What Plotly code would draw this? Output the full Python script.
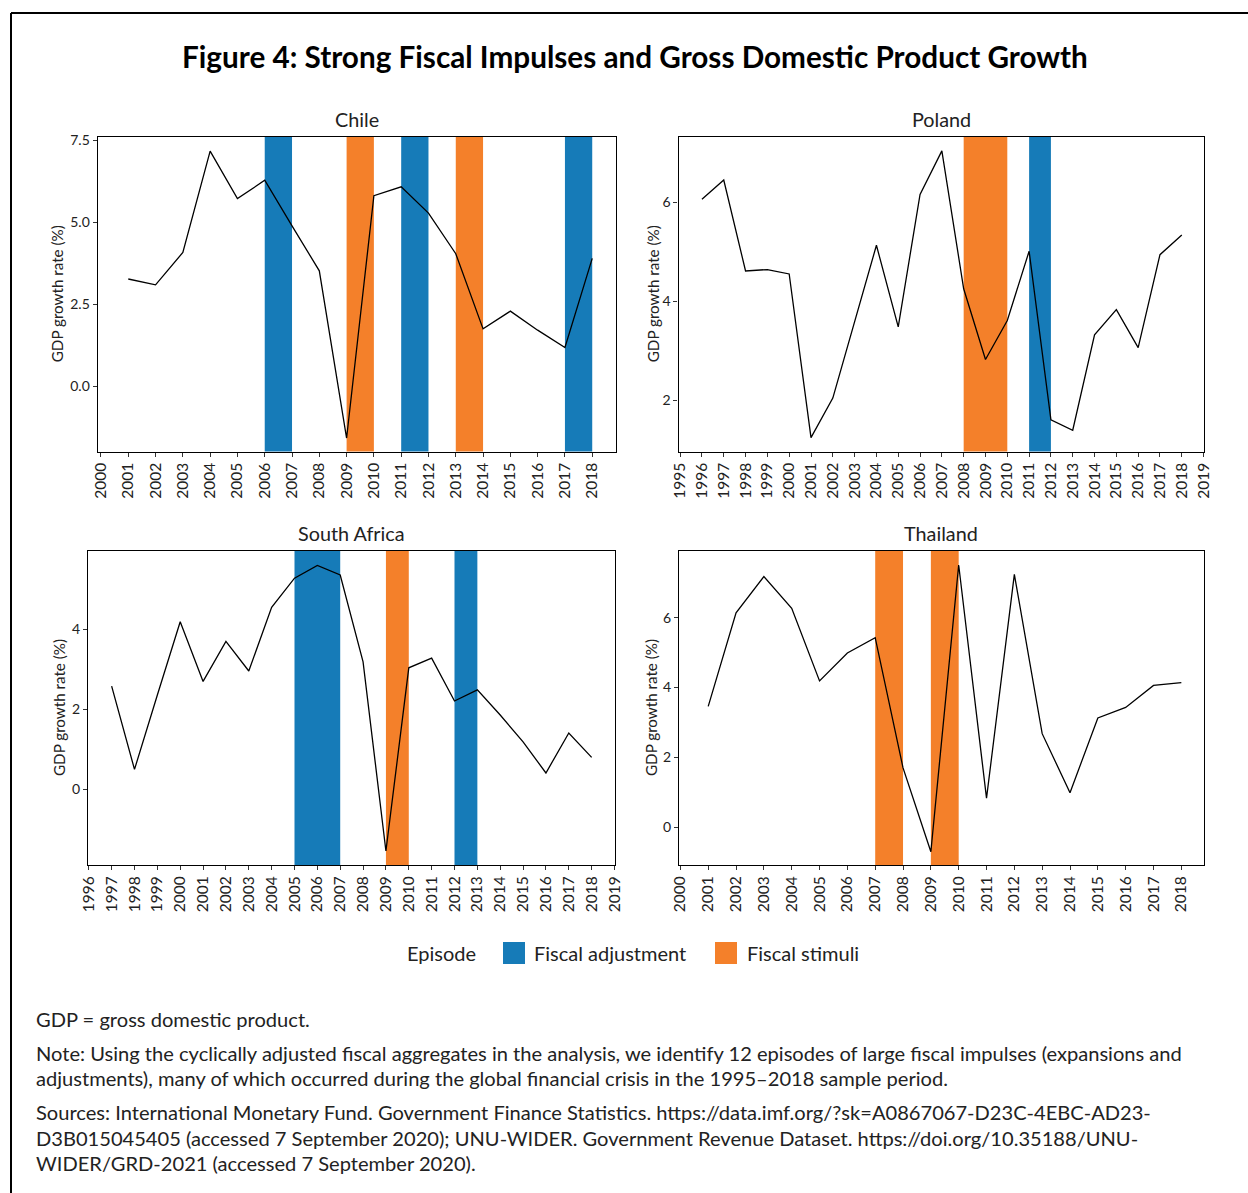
import plotly.graph_objects as go

# ---------------- data ----------------
chile_years = list(range(2001, 2019))
chile_gdp = [3.27, 3.09, 4.08, 7.17, 5.72, 6.28, 4.89, 3.52, -1.58, 5.81,
             6.08, 5.28, 4.04, 1.75, 2.29, 1.71, 1.18, 3.90]
chile_adj = [(2006, 2007), (2011, 2012), (2017, 2018)]
chile_stim = [(2009, 2010), (2013, 2014)]

poland_years = list(range(1996, 2019))
poland_gdp = [6.06, 6.45, 4.61, 4.64, 4.55, 1.24, 2.04, 3.58, 5.13, 3.48,
              6.16, 7.04, 4.25, 2.82, 3.61, 5.01, 1.60, 1.39, 3.32, 3.83,
              3.06, 4.94, 5.34]
poland_adj = [(2011, 2012)]
poland_stim = [(2008, 2010)]

sa_years = list(range(1997, 2019))
sa_gdp = [2.58, 0.50, 2.36, 4.19, 2.70, 3.70, 2.96, 4.55, 5.28, 5.60,
          5.36, 3.19, -1.54, 3.04, 3.28, 2.21, 2.49, 1.86, 1.19, 0.41,
          1.41, 0.80]
sa_adj = [(2005, 2007), (2012, 2013)]
sa_stim = [(2009, 2010)]

thai_years = list(range(2001, 2019))
thai_gdp = [3.46, 6.14, 7.18, 6.27, 4.19, 4.99, 5.43, 1.70, -0.70, 7.51,
            0.83, 7.24, 2.68, 0.99, 3.13, 3.43, 4.06, 4.14]
thai_adj = []
thai_stim = [(2007, 2008), (2009, 2010)]

countries = ["Chile", "Poland", "South Africa", "Thailand"]
x_ticks = [list(range(2000, 2019)), list(range(1995, 2020)),
           list(range(1996, 2020)), list(range(2000, 2019))]
y_ticks = [[0.0, 2.5, 5.0, 7.5], [2, 4, 6], [0, 2, 4], [0, 2, 4, 6]]
y_tickfmt = [".1f", "d", "d", "d"]

legend_title = "Episode"
legend_labels = ["Fiscal adjustment", "Fiscal stimuli"]
BLUE = "#167bb8"
ORANGE = "#f4802a"
TXT = "#222222"
FONT = "Lato"

W, H = 1248, 1193

# panel geometry (pixels)
panels = [
    dict(x=(97.7, 615.7), y=(137, 451.5), xr=(1999.88, 2018.86), yr=(-1.99, 7.6), ytx=57, tty=119),
    dict(x=(678.6, 1203.6), y=(137, 451.5), xr=(1994.93, 2019.0), yr=(0.96, 7.32), ytx=653, tty=119),
    dict(x=(88.1, 614.5), y=(551, 865), xr=(1995.97, 2019.0), yr=(-1.89, 5.96), ytx=59, tty=533),
    dict(x=(679.0, 1203.6), y=(551, 865), xr=(1999.95, 2018.8), yr=(-1.08, 7.91), ytx=651, tty=533),
]

series = [(chile_years, chile_gdp, chile_adj, chile_stim),
          (poland_years, poland_gdp, poland_adj, poland_stim),
          (sa_years, sa_gdp, sa_adj, sa_stim),
          (thai_years, thai_gdp, thai_adj, thai_stim)]


def px(x):
    return x / W


def py(y):
    return 1 - y / H


fig = go.Figure()
shapes = []
annotations = []

for i, (name, (yrs, vals, adj, stim), p) in enumerate(zip(countries, series, panels)):
    n = "" if i == 0 else str(i + 1)
    xa, ya = "x" + n, "y" + n
    # episode bands
    for episodes, col in ((adj, BLUE), (stim, ORANGE)):
        for a, b in episodes:
            shapes.append(dict(type="rect", xref=xa, yref=ya + " domain", x0=a, x1=b,
                               y0=0, y1=1, fillcolor=col, line=dict(width=0), layer="below"))
    fig.add_trace(go.Scatter(x=yrs, y=vals, mode="lines", xaxis=xa, yaxis=ya,
                             line=dict(color="black", width=1.3), showlegend=False,
                             hoverinfo="x+y"))
    axcommon = dict(showline=True, linecolor="black", linewidth=1.3, mirror=True,
                    ticks="outside", ticklen=4, tickcolor="#333", tickwidth=1,
                    showgrid=False, zeroline=False, automargin=False)
    fig.update_layout(**{
        ("xaxis" + n): dict(domain=[px(p["x"][0]), px(p["x"][1])], anchor=ya,
                            range=list(p["xr"]), tickmode="array",
                            tickvals=x_ticks[i], ticktext=[str(t) for t in x_ticks[i]],
                            tickangle=-90, tickfont=dict(family=FONT, size=15.5, color=TXT),
                            **axcommon),
        ("yaxis" + n): dict(domain=[py(p["y"][1]), py(p["y"][0])], anchor=xa,
                            range=list(p["yr"]), tickmode="array", tickvals=y_ticks[i],
                            tickformat=y_tickfmt[i],
                            tickfont=dict(family=FONT, size=14, color=TXT), **axcommon),
    })
    # subplot title
    annotations.append(dict(text=name, x=px((p["x"][0] + p["x"][1]) / 2), y=py(p["tty"]),
                            xref="paper", yref="paper", showarrow=False,
                            xanchor="center", yanchor="middle",
                            font=dict(family=FONT, size=19.8, color=TXT)))
    # y axis title
    annotations.append(dict(text="GDP growth rate (%)", x=px(p["ytx"]),
                            y=py((p["y"][0] + p["y"][1]) / 2), xref="paper", yref="paper",
                            showarrow=False, textangle=-90, xanchor="center", yanchor="middle",
                            font=dict(family=FONT, size=15.2, color=TXT)))

# main title
annotations.append(dict(text="<b>Figure 4: Strong Fiscal Impulses and Gross Domestic Product Growth</b>",
                        x=px(635), y=py(57), xref="paper", yref="paper", showarrow=False,
                        xanchor="center", yanchor="middle",
                        font=dict(family=FONT, size=29.7, color="black")))

# legend (manual)
LEG_Y = 953
annotations.append(dict(text=legend_title, x=px(404.5), y=py(LEG_Y), xref="paper", yref="paper",
                        showarrow=False, xanchor="left", yanchor="middle",
                        font=dict(family=FONT, size=20, color=TXT)))
for (sq0, tx), lab, col in zip([(503, 532), (715, 745)], legend_labels, [BLUE, ORANGE]):
    shapes.append(dict(type="rect", xref="paper", yref="paper", x0=px(sq0), x1=px(sq0 + 22),
                       y0=py(LEG_Y + 11), y1=py(LEG_Y - 11), fillcolor=col, line=dict(width=0)))
    annotations.append(dict(text=lab, x=px(tx), y=py(LEG_Y), xref="paper", yref="paper",
                            showarrow=False, xanchor="left", yanchor="middle",
                            font=dict(family=FONT, size=20, color=TXT)))

# notes
notes = [
    (1019, "GDP = gross domestic product."),
    (1053, "Note: Using the cyclically adjusted fiscal aggregates in the analysis, we identify 12 episodes of large fiscal impulses (expansions and"),
    (1078, "adjustments), many of which occurred during the global financial crisis in the 1995\u20132018 sample period."),
    (1112, "Sources: International Monetary Fund. Government Finance Statistics. https://data.imf.org/?sk=A0867067-D23C-4EBC-AD23-"),
    (1138, "D3B015045405 (accessed 7 September 2020); UNU-WIDER. Government Revenue Dataset. https://doi.org/10.35188/UNU-"),
    (1163, "WIDER/GRD-2021 (accessed 7 September 2020)."),
]
for yy, t in notes:
    annotations.append(dict(text=t, x=px(34), y=py(yy), xref="paper", yref="paper",
                            showarrow=False, xanchor="left", yanchor="middle",
                            font=dict(family=FONT, size=20.1, color=TXT)))

# outer frame (top and left edges visible)
shapes.append(dict(type="line", xref="paper", yref="paper", x0=px(11), x1=1.0,
                   y0=py(13), y1=py(13), line=dict(color="black", width=2)))
shapes.append(dict(type="line", xref="paper", yref="paper", x0=px(11), x1=px(11),
                   y0=0.0, y1=py(13), line=dict(color="black", width=2)))

fig.update_layout(width=W, height=H, autosize=False,
                  margin=dict(l=0, r=0, t=0, b=0, pad=0),
                  paper_bgcolor="white", plot_bgcolor="white",
                  shapes=shapes, annotations=annotations, showlegend=False,
                  font=dict(family=FONT, color=TXT))

fig.write_html("out.html", config={"displayModeBar": False},
               post_script="document.body.style.margin='0';document.body.style.overflow='hidden';")
